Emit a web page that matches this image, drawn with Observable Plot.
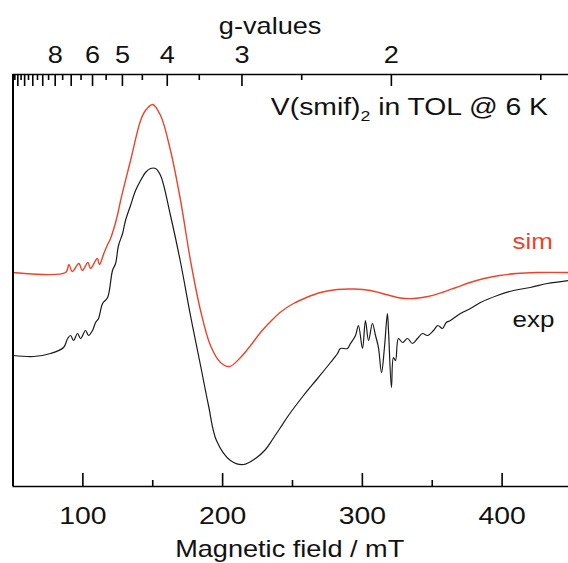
<!DOCTYPE html>
<html><head><meta charset="utf-8">
<script src="https://cdn.jsdelivr.net/npm/d3@7"></script>
<script src="https://cdn.jsdelivr.net/npm/@observablehq/plot@0.6"></script>
<style>html,body{margin:0;padding:0;background:#fff;} svg{display:block;}</style>
</head><body><div id="chart"></div>
<script>
// Magnetic field (mT) and signal (arbitrary units)
const simField = [50, 87.6, 90.0, 92.4, 97.1, 99.6, 103.6, 105.5, 110.3, 111.9, 115.0, 117.4, 119.8, 123.4, 125.5, 127.0, 134.1, 141.3, 144.8, 149.9, 155.6, 162.7, 169.9, 177.0, 184.2, 191.3, 198.5, 204.9, 212.8, 220.0, 227.1, 235.0, 242.0, 250.7, 260.0, 270.0, 282.0, 294.0, 305.8, 317.0, 327.3, 337.0, 347.0, 357.0, 367.0, 377.0, 387.0, 398.0, 410.0, 425.0, 447.5];
const simSignal = [0, 0, 8, 1, 9, 2, 10, 4, 14, 8, 19, 27, 34, 50, 62, 72, 112, 152, 162, 168, 157, 122, 72, 12, -38, -73, -90, -94, -85, -73, -60, -48, -39, -31, -25, -20, -17, -16.5, -18, -22, -25.5, -26, -24, -20, -15, -10, -6, -3, -1, 0, 0];

const expField = [50, 64.7, 76.9, 86.2, 89.1, 91.2, 93.3, 96.2, 98.4, 101.9, 104.1, 106.9, 109.1, 111.2, 114.1, 117.7, 121.2, 123.4, 125.5, 128.4, 130.5, 134.1, 137.7, 141.3, 144.8, 148.4, 152.0, 155.6, 162.7, 169.9, 177.0, 184.2, 189.9, 195.6, 205.6, 214.9, 223.5, 230.7, 235.7, 241.4, 247.1, 257.9, 267.9, 277.2, 282.2, 284.3, 289.3, 291.5, 295.1, 297.2, 300.1, 302.2, 304.4, 307.2, 309.4, 311.5, 313.7, 315.8, 317.9, 318.7, 320.8, 322.2, 323.7, 325.8, 328.7, 332.3, 335.8, 339.4, 343.0, 346.6, 350.9, 354.0, 357.3, 360.0, 363.0, 370.2, 377.3, 384.5, 396.6, 408.1, 420.2, 432.4, 447.5];
const expSignal = [-83, -84, -81, -75, -66, -63, -68, -61, -66, -58, -63, -58, -50, -46, -31, -25, 2, 9, 27, 39, 52, 67, 82, 92, 100, 104, 104, 97, 57, 10, -43, -93, -133, -168, -188, -192, -186, -177, -167, -155, -143, -123, -106, -90, -81, -76, -76, -71, -63, -53, -76, -48, -68, -51, -63, -75, -100, -75, -41, -58, -115, -85, -88, -66, -70, -66, -71, -66, -61, -63, -58, -53, -56, -50, -48, -41, -36, -30, -23, -18, -15, -11, -8];

const fieldTicks = [100, 200, 300, 400];
const fieldMinorTicks = [150, 250, 350];
const gLabels = [2, 3, 4, 5, 6, 8];
const gMajor = [2, 3, 4, 5, 6, 7, 8, 9, 10, 11, 12];
const gMinor = [1.5, 2.5, 3.5, 4.5, 5.5, 6.5, 7.5, 8.5, 9.5, 10.5, 11.5, 12.5];
const hvOverMuB = 641.5; // mT, field at g = 1

const xDomain = [50, 447.5];
const yDomain = [-214, 198];
const font = "'Liberation Sans', Arial, sans-serif";
const simColor = "#e8452c";
const expColor = "#1a1a1a";

const sim = simField.map((f, i) => ({field: f, signal: simSignal[i]}));
const exp = expField.map((f, i) => ({field: f, signal: expSignal[i]}));
const gToField = g => hvOverMuB / g;

const yB = yDomain[0], yT = yDomain[1];

const plot = Plot.plot({
  width: 568,
  height: 563,
  marginTop: 74,
  marginBottom: 77,
  marginLeft: 12.5,
  marginRight: 0,
  x: {domain: xDomain, axis: null},
  y: {domain: yDomain, axis: null},
  style: {fontFamily: font, background: "#fff", overflow: "visible"},
  marks: [
    Plot.line(sim, {x: "field", y: "signal", stroke: simColor, strokeWidth: 1.4, curve: "catmull-rom"}),
    Plot.line(exp, {x: "field", y: "signal", stroke: expColor, strokeWidth: 1.2, curve: "catmull-rom"}),
    // frame lines
    Plot.ruleX([xDomain[0]], {stroke: "#000", strokeWidth: 2}),
    Plot.ruleY([yB, yT], {stroke: "#000", strokeWidth: 1.5}),
    // bottom ticks (inward)
    Plot.ruleX(fieldTicks, {y1: yB, y2: yB + 13, stroke: "#000", strokeWidth: 1.6}),
    Plot.ruleX(fieldMinorTicks, {y1: yB, y2: yB + 6, stroke: "#000", strokeWidth: 1.6}),
    // top g ticks (inward)
    Plot.ruleX(gMajor.map(gToField), {y1: yT, y2: yT - 12, stroke: "#000", strokeWidth: 1.6}),
    Plot.ruleX(gMinor.map(gToField), {y1: yT, y2: yT - 6, stroke: "#000", strokeWidth: 1.6}),
    // bottom tick labels
    Plot.text(fieldTicks, {x: d => d, frameAnchor: "bottom", dy: 20, lineAnchor: "top", text: d => String(d), fontSize: 24, fill: "#111"}),
    Plot.text(["Magnetic field / mT"], {x: () => 248, frameAnchor: "bottom", dy: 54, lineAnchor: "top", text: d => d, fontSize: 23, fill: "#111"}),
    // top tick labels
    Plot.text(gLabels, {x: gToField, frameAnchor: "top", dy: -12, lineAnchor: "bottom", text: d => String(d), fontSize: 23, fill: "#111"}),
    Plot.text(["g-values"], {x: () => 234, frameAnchor: "top", dy: -41, lineAnchor: "bottom", text: d => d, fontSize: 23, fill: "#111"}),
    // series labels
    Plot.text(["sim"], {x: () => 407.5, y: () => 24, text: d => d, textAnchor: "start", lineAnchor: "bottom", fontSize: 22, fill: simColor}),
    Plot.text(["exp"], {x: () => 407.5, y: () => -54, text: d => d, textAnchor: "start", lineAnchor: "bottom", fontSize: 22, fill: "#111"})
  ]
});

// Title annotation with subscript
const xs = plot.scale("x"), ys = plot.scale("y");
const svg = d3.select(plot.tagName.toLowerCase() === "svg" ? plot : plot.querySelector("svg"));
const t = svg.append("text")
  .attr("x", xs.apply(433.2))
  .attr("y", ys.apply(157))
  .attr("text-anchor", "end")
  .attr("font-family", font)
  .attr("font-size", 24)
  .attr("fill", "#111");
t.append("tspan").text("V(smif)");
t.append("tspan").attr("font-size", 15).attr("dy", 6).text("2");
t.append("tspan").attr("dy", -6).text(" in TOL @ 6 K");

// the original figure's lettering is horizontally wider: stretch texts about their anchor
const stretch = 1.18;
svg.selectAll("text").each(function () {
  const el = d3.select(this);
  const x = parseFloat(el.attr("x")) || 0;
  const old = el.attr("transform") || "";
  el.attr("transform", `${old} translate(${x},0) scale(${stretch},1) translate(${-x},0)`);
});

document.getElementById("chart").appendChild(plot);
</script>
</body></html>
